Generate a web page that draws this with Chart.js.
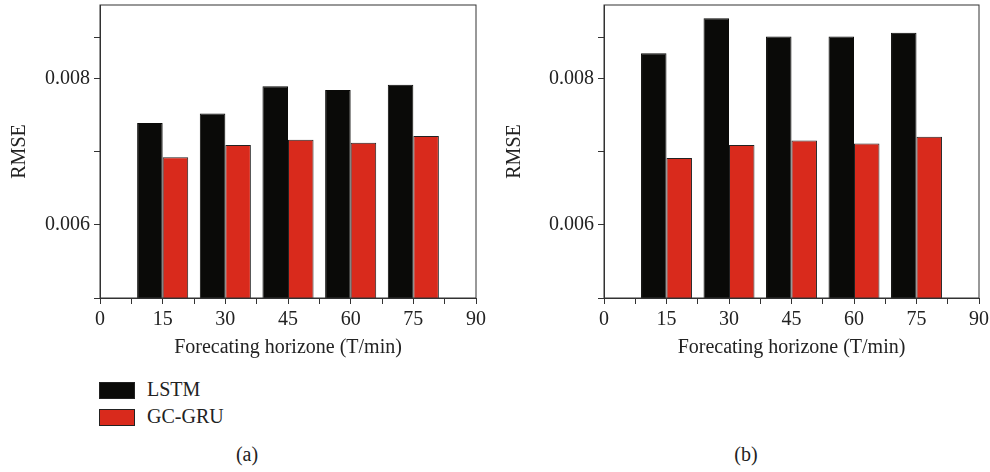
<!DOCTYPE html>
<html>
<head>
<meta charset="utf-8">
<script src="https://cdn.jsdelivr.net/npm/chart.js@4/dist/chart.umd.min.js"></script>
<style>
  body { margin: 0; background: #fff; width: 990px; height: 472px; position: relative; overflow: hidden; font-family: "Liberation Serif", serif; color: #222; }
  .wrap { position: absolute; top: 0; width: 495px; height: 362px; }
  .lg { position: absolute; left: 99px; font-size: 20px; }
  .lg span.box { position: absolute; left: 0; width: 34px; height: 15px; border: 1px solid #222; }
  .lg span.txt { position: absolute; left: 48px; top: -4px; white-space: nowrap; }
  .cap { position: absolute; top: 443px; font-size: 20px; width: 60px; text-align: center; }
</style>
</head>
<body>
<div class="wrap" style="left:0"><canvas id="chart-a"></canvas></div>
<div class="wrap" style="left:495px"><canvas id="chart-b"></canvas></div>
<div class="lg" style="top:382px"><span class="box" style="background:#0a0a08"></span><span class="txt">LSTM</span></div>
<div class="lg" style="top:409px"><span class="box" style="background:#d92a1c"></span><span class="txt">GC-GRU</span></div>
<div class="cap" style="left:217px">(a)</div>
<div class="cap" style="left:716px">(b)</div>
<script>
const horizons = [15, 30, 45, 60, 75]
const lstm_a = [0.00739, 0.00752, 0.00789, 0.00784, 0.00791]
const gcgru_a = [0.00692, 0.00709, 0.00716, 0.00712, 0.00721]
const lstm_b = [0.00834, 0.00882, 0.00857, 0.00857, 0.00862]
const gcgru_b = [0.00691, 0.00709, 0.00715, 0.00711, 0.00720]
const yTicks = [0.005, 0.006, 0.007, 0.008, 0.00856]
const yLabels = [0.006, 0.008]

const serif = "'Liberation Serif', serif"

const frame = {
  id: 'frame',
  afterDraw(chart) {
    const { ctx, chartArea: a } = chart
    ctx.save()
    ctx.strokeStyle = '#333'
    ctx.lineWidth = 1
    ctx.strokeRect(a.left, a.top, a.right - a.left, a.bottom - a.top)
    ctx.restore()
  }
}

const createChart = (el, lstm, gcgru, yWidth, padRight) => {
  const pts = (vals) => horizons.map((h, i) => ({ x: h, y: vals[i] }))
  new Chart(document.getElementById(el), {
    type: 'bar',
    data: {
      datasets: [
        { label: 'LSTM', data: pts(lstm), backgroundColor: '#0a0a08', borderColor: '#0a0a08', borderWidth: 1 },
        { label: 'GC-GRU', data: pts(gcgru), backgroundColor: '#d92a1c', borderColor: '#222', borderWidth: 1 }
      ]
    },
    options: {
      animation: false,
      responsive: true,
      maintainAspectRatio: false,
      // ruler uses the 7.5 tick spacing, so a pair spans ~1.63 of it
      categoryPercentage: 1.63,
      barPercentage: 1,
      layout: { padding: { top: 5, right: padRight, left: 0, bottom: 0 } },
      plugins: { legend: { display: false }, tooltip: { enabled: false } },
      scales: {
        x: {
          type: 'linear',
          min: 0,
          max: 90,
          offset: false,
          grid: { offset: false, drawOnChartArea: false, tickLength: 6, color: '#333' },
          border: { color: '#333' },
          ticks: {
            stepSize: 7.5,
            padding: 4,
            color: '#222',
            font: { family: serif, size: 20 },
            maxRotation: 0,
            autoSkip: false,
            callback: (v) => (v % 15 === 0 ? v : '')
          },
          title: { display: true, text: 'Forecating horizone (T/min)', color: '#222', font: { family: serif, size: 20 }, padding: { top: 4, bottom: 2 } },
          afterFit: (s) => { s.height = 64; s.paddingRight = 0; s.paddingLeft = 0 }
        },
        y: {
          min: 0.005,
          max: 0.009,
          grid: { drawOnChartArea: false, tickLength: 6, color: '#333' },
          border: { color: '#333' },
          afterBuildTicks: (s) => { s.ticks = yTicks.map((v) => ({ value: v })) },
          ticks: {
            padding: 4,
            color: '#222',
            font: (c) => ({ family: serif, size: c.tick && yLabels.includes(c.tick.value) ? 20 : 1 }),
            callback: (v) => (yLabels.includes(v) ? v.toFixed(3) : '')
          },
          title: { display: true, text: 'RMSE', color: '#222', font: { family: serif, size: 20 }, padding: { top: 8, bottom: 0 } },
          afterFit: (s) => { s.width = yWidth }
        }
      }
    },
    plugins: [frame]
  })
}

createChart('chart-a', lstm_a, gcgru_a, 100, 19)
createChart('chart-b', lstm_b, gcgru_b, 109, 11)
</script>
</body>
</html>
